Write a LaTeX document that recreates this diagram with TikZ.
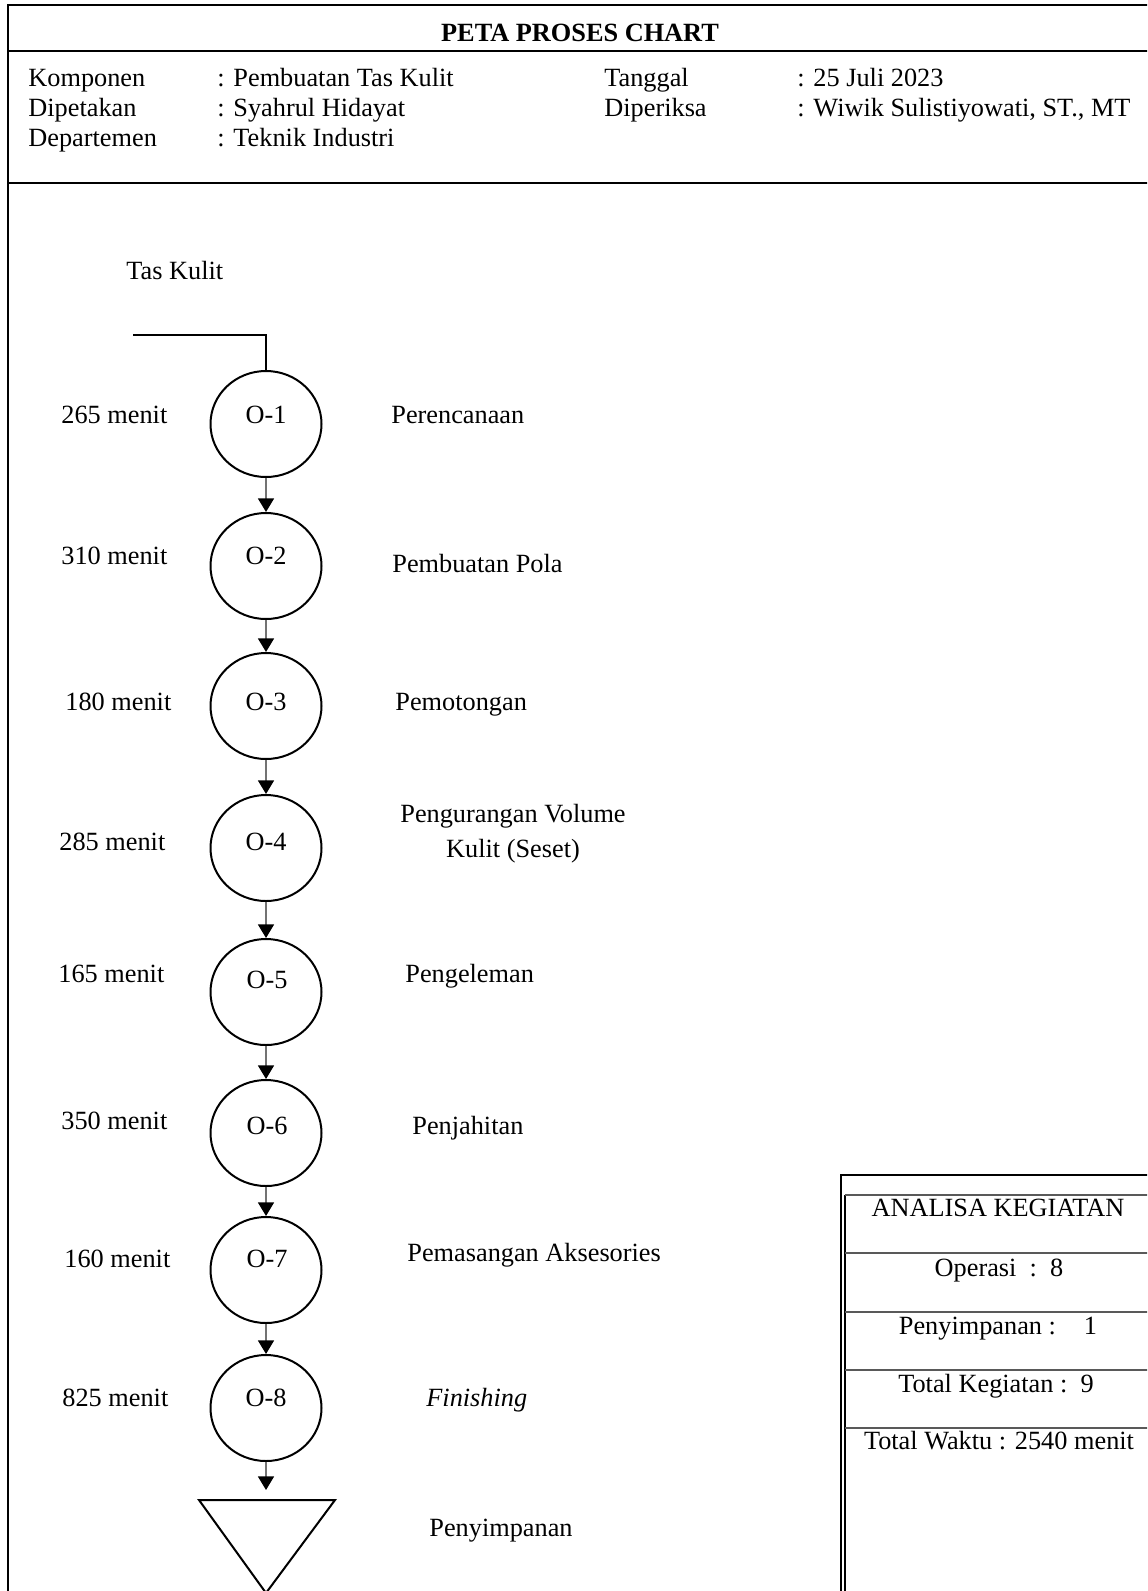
\documentclass[tikz,border=0pt]{standalone}
\usepackage{fontspec}
\setmainfont{Liberation Serif}
\usetikzlibrary{arrows.meta,shapes.geometric}
\begin{document}
\begin{tikzpicture}[x=0.5pt,y=-0.5pt,
  txt/.style={font=\fontsize{13.15}{15.8}\selectfont, inner sep=0pt, anchor=base west},
  ctxt/.style={font=\fontsize{13.15}{15.8}\selectfont, inner sep=0pt, anchor=base},
  opnode/.style={draw, ellipse, line width=1pt, minimum width=55.5pt, minimum height=53pt, inner sep=0pt},
  conn/.style={draw=black!55, line width=0.65pt, -{Triangle[width=8pt,length=6.8pt,color=black]}},
  framethick/.style={line width=1.1pt},
  thinline/.style={line width=0.6pt},
  cellline/.style={draw=black!65, line width=0.6pt}]
\useasboundingbox (0,0) rectangle (1147,1591);
\clip (0,0) rectangle (1147,1591);

% frame
\draw[framethick] (1160,5) -- (8,5) -- (8,1600);
\draw[framethick] (8,51) -- (1160,51);
\draw[thinline] (8,183) -- (1160,183);

% header
\node[ctxt, font=\fontsize{13.15}{15.8}\selectfont\bfseries] (title) at (580,41) {PETA PROSES CHART};
\node[txt] (h1) at (28,86) {Komponen};
\node[txt] (h2) at (28,116) {Dipetakan};
\node[txt] (h3) at (28,146) {Departemen};
\node[txt] (v1) at (217,86) {: Pembuatan Tas Kulit};
\node[txt] (v2) at (217,116) {: Syahrul Hidayat};
\node[txt] (v3) at (217,146) {: Teknik Industri};
\node[txt] (h4) at (604,86) {Tanggal};
\node[txt] (h5) at (604,116) {Diperiksa};
\node[txt] (v4) at (797,86) {: 25 Juli 2023};
\node[txt] (v5) at (797,116) {: Wiwik Sulistiyowati, ST., MT};

% start
\node[txt] (tas) at (126,279) {Tas Kulit};
\coordinate (in) at (133,335);

% operations
\node[opnode] (o1) at (266,424) {};
\node[opnode] (o2) at (266,566) {};
\node[opnode] (o3) at (266,706) {};
\node[opnode] (o4) at (266,848) {};
\node[opnode] (o5) at (266,992) {};
\node[opnode] (o6) at (266,1133) {};
\node[opnode] (o7) at (266,1270) {};
\node[opnode] (o8) at (266,1408) {};

\node[ctxt] (l1) at (266,423) {O-1};
\node[ctxt] (l2) at (266,564) {O-2};
\node[ctxt] (l3) at (266,710) {O-3};
\node[ctxt] (l4) at (266,850) {O-4};
\node[ctxt] (l5) at (267,988) {O-5};
\node[ctxt] (l6) at (267,1134) {O-6};
\node[ctxt] (l7) at (267,1267) {O-7};
\node[ctxt] (l8) at (266,1406) {O-8};

% storage triangle
\coordinate (ta) at (199,1500);
\coordinate (tb) at (335,1500);
\coordinate (tc) at (266,1593);
\draw[line width=1pt] (ta) -- (tb) -- (tc) -- cycle;
\coordinate (tr) at (266,1490);

% connectors
\draw[thinline] (in) -| (o1.north);
\draw[conn] (o1.south) -- (o2.north);
\draw[conn] (o2.south) -- (o3.north);
\draw[conn] (o3.south) -- (o4.north);
\draw[conn] (o4.south) -- (o5.north);
\draw[conn] (o5.south) -- (o6.north);
\draw[conn] (o6.south) -- (o7.north);
\draw[conn] (o7.south) -- (o8.north);
\draw[conn] (o8.south) -- (tr);

% times
\node[txt] (m1) at (61,423) {265 menit};
\node[txt] (m2) at (61,564) {310 menit};
\node[txt] (m3) at (65,710) {180 menit};
\node[txt] (m4) at (59,850) {285 menit};
\node[txt] (m5) at (58,982) {165 menit};
\node[txt] (m6) at (61,1129) {350 menit};
\node[txt] (m7) at (64,1267) {160 menit};
\node[txt] (m8) at (62,1406) {825 menit};

% descriptions
\node[txt] (d1) at (391,423) {Perencanaan};
\node[txt] (d2) at (392,572) {Pembuatan Pola};
\node[txt] (d3) at (395,710) {Pemotongan};
\node[ctxt] (d4a) at (513,822) {Pengurangan Volume};
\node[ctxt] (d4b) at (513,857) {Kulit (Seset)};
\node[txt] (d5) at (405,982) {Pengeleman};
\node[txt] (d6) at (412,1134) {Penjahitan};
\node[txt] (d7) at (407,1261) {Pemasangan Aksesories};
\node[txt] (d8) at (426,1406) {\itshape Finishing};
\node[txt] (d9) at (429,1536) {Penyimpanan};

% analysis table
\draw[framethick] (841,1600) -- (841,1175) -- (1160,1175);
\draw[line width=0.8pt] (845,1600) -- (845,1195);
\foreach \yy in {1195,1253,1312,1370,1428}
  \draw[cellline] (845,\yy) -- (1160,\yy);
\node[ctxt] (a1) at (998,1216) {ANALISA KEGIATAN};
\node[ctxt] (a2) at (999,1276) {Operasi\ \ :\ \ 8};
\node[ctxt] (a3) at (998,1334) {Penyimpanan :\hspace{14pt}1};
\node[ctxt] (a4) at (996,1392) {Total Kegiatan :\ \ 9};
\node[ctxt] (a5) at (999,1449) {Total Waktu : 2540 menit};
\end{tikzpicture}
\end{document}
